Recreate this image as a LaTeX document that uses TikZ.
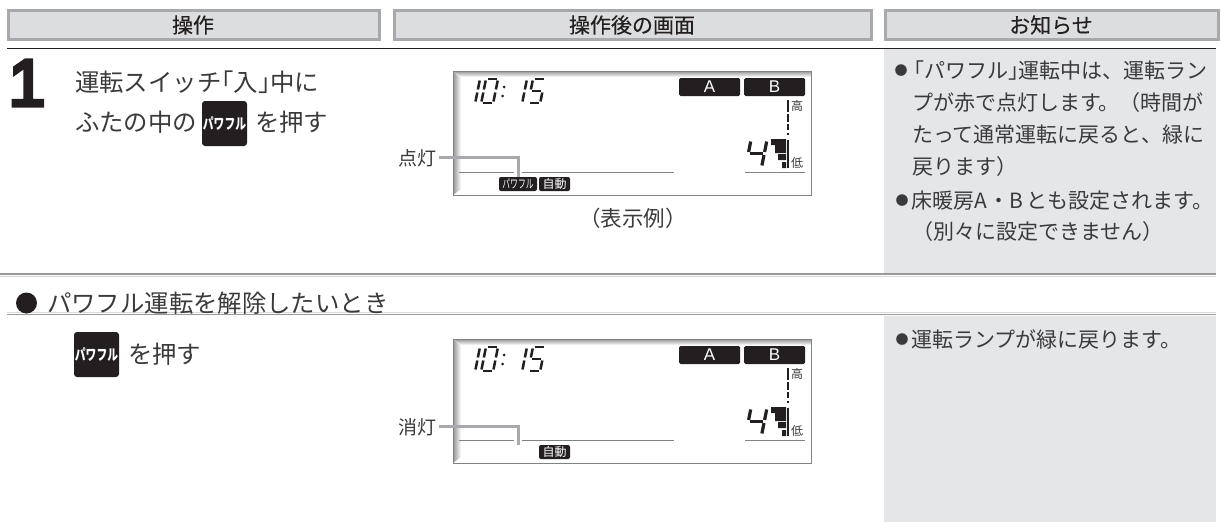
\documentclass[tikz,border=0pt]{standalone}
\usepackage{fontspec}
\usepackage{graphicx}
\setmainfont{Noto Sans CJK JP}
\newfontfamily\headfont[FakeBold=.3]{Noto Sans CJK JP}
\newfontfamily\stepfont[FakeBold=6]{Liberation Sans}
\newfontfamily\latinfont{Liberation Sans}
\definecolor{ink}{HTML}{231F20}
\definecolor{body}{HTML}{3A3A3C}
\definecolor{headfill}{HTML}{DCDDDE}
\definecolor{headedge}{HTML}{A7A9AC}
\definecolor{panel}{HTML}{E5E6E8}
\definecolor{lcdline}{HTML}{808285}
\newcommand{\fs}[1]{\fontsize{#1}{#1}\selectfont}
\newcommand{\lb}{\kern-.5em 「}
\newcommand{\rb}{」\kern-.5em }
\newcommand{\smallbullet}{\raisebox{3pt}{\fs{13}●}}
\tikzset{
  every node/.style={inner sep=0pt,outer sep=0pt,text=body},
  headbox/.style={draw=headedge,fill=headfill,line width=3pt},
  headtext/.style={font=\headfont\fs{21},text=ink},
  txt/.style={anchor=west,font=\fs{#1}},
  txt/.default=21,
  keybadge/.style={fill=ink,rounded corners=3pt,text=white,font=\bfseries\fs{15},minimum width=45pt,minimum height=45pt},
  smallbadge/.style={fill=ink,rounded corners=2pt,text=white,minimum height=14pt,font=\fs{12}},
  seg/.style={line width=2.5pt,draw=ink},
  bigseg/.style={line width=3.2pt,draw=ink},
  leader/.style={draw=headedge,line width=3pt},
  halo/.style={draw=white,line width=8pt},
}
% seven segment digit: x, y, width, height, style, segments
\newcommand{\digit}[6]{%
  \begin{scope}[shift={(#1,#2)},xslant=.2]
    \foreach \s in {#6}{
      \if\s a\draw[#5] (1.5,0)--(#3-1.5,0);\fi
      \if\s b\draw[#5] (#3,1.5)--(#3,#4/2-1.5);\fi
      \if\s c\draw[#5] (#3,#4/2+1.5)--(#3,#4-1.5);\fi
      \if\s d\draw[#5] (1.5,#4)--(#3-1.5,#4);\fi
      \if\s e\draw[#5] (0,#4/2+1.5)--(0,#4-1.5);\fi
      \if\s f\draw[#5] (0,1.5)--(0,#4/2-1.5);\fi
      \if\s g\draw[#5] (1.5,#4/2)--(#3-1.5,#4/2);\fi
    }
  \end{scope}}
% LCD panel: dy, suffix
\newcommand{\lcd}[2]{%
  \begin{scope}[shift={(0,#1)}]
    \fill[white] (453,71) rectangle (811,195);
    \shade[left color=black!42,right color=white] (453,71) -- (461,78) -- (461,189) -- (453,195) -- cycle;
    \shade[top color=black!42,bottom color=white] (453,71) -- (811,71) -- (811,77) -- (461,77) -- cycle;
    \draw[lcdline,line width=.9pt] (453,195) -- (453,71) -- (811,71) -- (811,195) -- (453,195);
    \digit{468}{79}{12}{24}{seg}{b,c}
    \digit{486}{79}{12}{24}{seg}{a,b,c,d,e,f}
    \fill[ink] (504,87) circle (1.5pt) (502.5,96) circle (1.5pt);
    \digit{515}{79}{12}{24}{seg}{b,c}
    \digit{533}{79}{12}{24}{seg}{a,f,g,c,d}
    \node[fill=ink,rounded corners=1.5pt,minimum width=61pt,minimum height=18pt,text=white,font=\latinfont\fs{17}] (a#2) at (709.5,87) {A};
    \node[fill=ink,rounded corners=1.5pt,minimum width=61pt,minimum height=18pt,text=white,font=\latinfont\fs{17}] (b#2) at (774.5,87) {B};
    \foreach \ya/\yb in {100/112,113.5/122,124/130,133/135,140/168}
      \draw[ink,line width=1.5pt] (788,\ya) -- (788,\yb);
    \fill[ink] (771,139) rectangle (786,145) (775,145) rectangle (786,153) (778,154) rectangle (786,160) (782,162) rectangle (786,168);
    \node[font=\fs{12}] (hi#2) at (797,106) {高};
    \node[font=\fs{12}] (lo#2) at (797,163) {低};
    \digit{751}{140}{16}{27}{bigseg}{f,g,b,c}
    \draw[lcdline,line width=.9pt] (745,172) -- (805,172);
    \draw[lcdline,line width=.9pt] (459,172) -- (674,172);
  \end{scope}}
\begin{document}
\begin{tikzpicture}[x=1pt,y=-1pt]
\useasboundingbox (0,0) rectangle (1221,522);
\fill[panel] (884,49) rectangle (1216,273);
\fill[panel] (884,316) rectangle (1216,522);
% headers
\path[headbox] (8,10) rectangle (379,39);
\path[headbox] (394,10) rectangle (871,39);
\path[headbox] (885,10) rectangle (1218,39);
\node[headtext] (h1) at (193,25) {操作};
\node[headtext] (h2) at (632,25) {操作後の画面};
\node[headtext] (h3) at (1051,25) {お知らせ};
\draw[ink,line width=1pt] (7,48) -- (1216,48);
% rules
\draw[black!40,line width=1.6pt] (0,274) -- (1216,274);
\draw[black!15,line width=.7pt] (0,276.5) -- (1216,276.5);
\draw[black!15,line width=.7pt] (7,312) -- (1216,312);
\draw[black!40,line width=1.6pt] (7,314.5) -- (1216,314.5);
% step 1
\node[font=\stepfont\fs{66},text=ink,anchor=center] (one) at (27,83) {1};
\node[txt=24.4] (t1) at (75,82) {運転スイッチ\lb 入\rb 中に};
\node[txt=24.4] (t2) at (75,122) {ふたの中の};
\node[keybadge] (k1) at (224.5,123.5) {\scalebox{.72}[1]{パワフル}};
\node[txt=24.4] (t3) at (255,122) {を押す};
% LCD 1
\lcd{0}{x}
\node[font=\fs{19}] (on) at (417,158) {点灯};
\coordinate (onend) at (518,177);
\draw[halo] (518,168) -- (onend);
\draw[lcdline,line width=.9pt] (459,172) -- (513,172) (523,172) -- (674,172);
\draw[leader] (on.east) ++(3,-1) -| (onend);
\node[smallbadge,minimum width=38pt] (p1) at (518,184) {\scalebox{.65}[1]{パワフル}};
\node[smallbadge,minimum width=31pt] (j1) at (554.5,184) {自動};
\node[font=\fs{21.5}] (ex) at (633,218) {（表示例）};
% notes 1
\node[txt] (n1) at (894.5,71) {\smallbullet\kern-4.5pt 「パワフル\rb 運転中は、運転ラン};
\node[txt] (n2) at (912,103) {プが赤で点灯します。（時間が};
\node[txt] (n3) at (912,135) {たって通常運転に戻ると、緑に};
\node[txt] (n4) at (912,167) {戻ります）};
\node[txt] (n5) at (895.5,201) {\smallbullet\kern2.5pt 床暖房A\kern2pt ・B\kern3pt とも設定されます。};
\node[txt] (n6) at (912,232) {（別々に設定できません）};
% release section
\fill[ink] (26.5,303) circle (10.5pt);
\node[txt=24.4] (rel) at (47,303) {パワフル運転を解除したいとき};
\node[keybadge] (k2) at (96.5,354.5) {\scalebox{.72}[1]{パワフル}};
\node[txt=24.4] (t4) at (128,354) {を押す};
% LCD 2
\lcd{268}{y}
\node[font=\fs{19}] (off) at (417,427) {消灯};
\coordinate (offend) at (518,445);
\draw[halo] (518,436) -- (offend);
\draw[lcdline,line width=.9pt] (459,440) -- (513,440) (523,440) -- (674,440);
\draw[leader] (off.east) ++(3,-1) -| (offend);
\node[smallbadge,minimum width=31pt] (j2) at (554.5,452) {自動};
% notes 2
\node[txt] (n7) at (895.5,339) {\smallbullet\kern2.5pt 運転ランプが緑に戻ります。};
\end{tikzpicture}
\end{document}
